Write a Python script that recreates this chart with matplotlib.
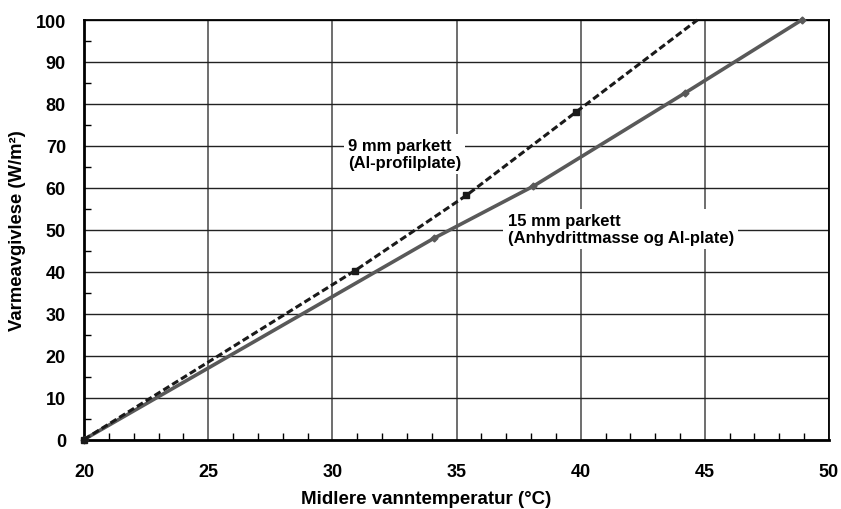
import matplotlib
matplotlib.use("Agg")
import matplotlib.pyplot as plt
from matplotlib.ticker import MultipleLocator

plt.rcParams['font.family'] = ['Liberation Sans', 'DejaVu Sans']
plt.rcParams['font.weight'] = 'bold'

# 9 mm parkett (Al-profilplate)
x_9mm = [20.0, 30.9, 35.4, 39.8, 44.7]
y_9mm = [0.0, 40.2, 58.2, 78.0, 100.0]

# 15 mm parkett (Anhydrittmasse og Al-plate)
x_15mm = [20.0, 34.1, 38.1, 44.2, 48.9]
y_15mm = [0.0, 48.0, 60.4, 82.6, 100.0]

label_9mm = "9 mm parkett\n(Al-profilplate)"
label_15mm = "15 mm parkett\n(Anhydrittmasse og Al-plate)"
xlabel = "Midlere vanntemperatur (°C)"
ylabel = "Varmeavgivlese (W/m²)"

fig = plt.figure(figsize=(8.41, 5.10), dpi=100)
ax = fig.add_axes([84/841, 1-440.5/510, (829-84)/841, (440.5-21)/510])

ax.set_xlim(20, 50)
ax.set_ylim(0, 100)
ax.xaxis.set_major_locator(MultipleLocator(5))
ax.xaxis.set_minor_locator(MultipleLocator(1))
ax.yaxis.set_major_locator(MultipleLocator(10))
ax.yaxis.set_minor_locator(MultipleLocator(5))

ax.grid(axis='x', which='major', color='#555555', lw=1.2, zorder=1)
ax.grid(axis='y', which='major', color='#222222', lw=1.0, zorder=1)

ax.tick_params(axis='both', which='major', length=0, labelsize=13)
ax.tick_params(axis='x', which='major', pad=17)
ax.tick_params(axis='y', which='major', pad=13)
ax.tick_params(axis='x', which='minor', direction='in', length=5, width=1, top=False)
ax.tick_params(axis='y', which='minor', direction='in', length=5, width=1, right=False)

for side in ['left', 'bottom']:
    ax.spines[side].set_linewidth(2.0)
for side in ['top', 'right']:
    ax.spines[side].set_linewidth(1.3)

ax.plot(x_15mm, y_15mm, color='#595959', lw=2.6, marker='D', ms=3.5,
        mfc='#595959', mec='#595959', zorder=3, clip_on=False)
ax.plot(x_9mm[:-1], y_9mm[:-1], color='#1a1a1a', lw=0, marker='s', ms=5,
        zorder=5, clip_on=False)
ax.plot(x_9mm, y_9mm, color='#1a1a1a', lw=2.2, ls=(0, (2.3, 1.1)), zorder=4, clip_on=False)

ax.text(30.62, 71.8, label_9mm, fontsize=12, fontweight='bold', va='top', ha='left',
        linespacing=1.15, bbox=dict(facecolor='white', edgecolor='none', pad=3), zorder=6)
ax.text(37.06, 54.0, label_15mm, fontsize=12, fontweight='bold', va='top', ha='left',
        linespacing=1.15, bbox=dict(facecolor='white', edgecolor='none', pad=3), zorder=6)

ax.set_xlabel(xlabel, fontsize=13.5, fontweight='bold')
ax.xaxis.set_label_coords((426-84)/745, -(500-440.5)/419.5)
ax.xaxis.label.set_va('center')
ax.set_ylabel(ylabel, fontsize=13.3, fontweight='bold')
ax.yaxis.set_label_coords(-(84-18)/745, 0.5)
ax.yaxis.label.set_va('center')

fig.savefig("out.png", dpi=100)
